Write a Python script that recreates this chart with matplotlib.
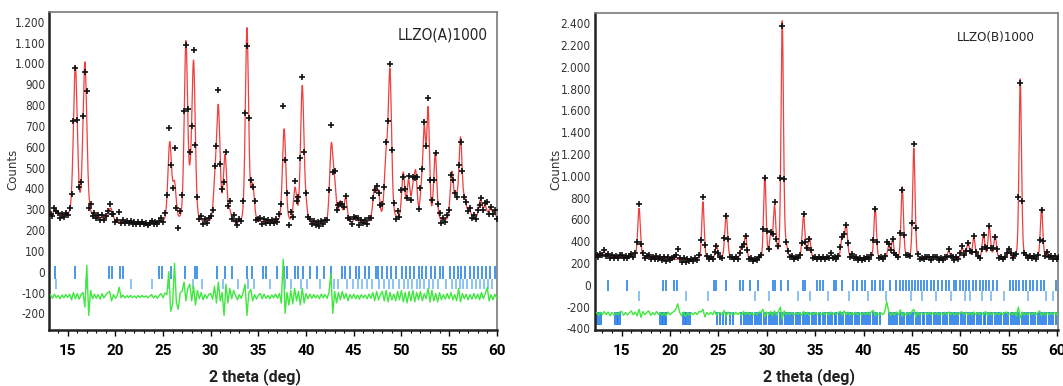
import numpy as np
import matplotlib
matplotlib.use("Agg")
import matplotlib.pyplot as plt
from matplotlib.ticker import FuncFormatter, MultipleLocator

# ---------------- LLZO(A)1000 ----------------
a_bg_pos = [13.0, 15.0, 18.0, 20.0, 23.5, 25.0, 29.5, 33.0, 36.0, 41.0, 45.5, 50.0, 54.5, 57.0, 60.2]
a_bg_cnt = [262, 258, 258, 238, 228, 232, 228, 222, 236, 222, 230, 245, 236, 250, 252]

a_peak_pos = [13.7, 15.8, 16.8, 19.5, 25.7, 26.2, 27.4, 27.85, 28.2, 30.45, 30.8,
              31.5, 32.0, 33.8, 34.4, 37.7, 38.85, 39.6, 40.0, 42.65, 43.0, 43.6, 44.15,
              45.2, 47.2, 47.6, 48.4, 48.8, 50.2, 50.75, 51.2, 51.5, 52.1, 52.4, 52.8,
              53.55, 55.3, 55.75, 56.2, 56.65, 57.1, 58.3, 58.8, 59.3, 59.7]
a_peak_hgt = [35, 720, 740, 60, 380, 170, 860, 100, 760, 170, 540,
              320, 50, 940, 170, 450, 160, 660, 60, 370, 160, 100, 120,
              35, 160, 120, 280, 690, 220, 180, 130, 210, 120, 410, 520,
              320, 230, 90, 390, 80, 45, 90, 55, 45, 35]
a_peak_fwhm = [0.5, 0.48, 0.48, 0.5, 0.45, 0.4, 0.42, 0.35, 0.42, 0.4, 0.42,
               0.42, 0.4, 0.4, 0.4, 0.42, 0.4, 0.42, 0.35, 0.42, 0.38, 0.4, 0.4,
               0.4, 0.45, 0.35, 0.45, 0.4, 0.38, 0.36, 0.35, 0.36, 0.35, 0.34, 0.34,
               0.38, 0.42, 0.35, 0.4, 0.35, 0.4, 0.45, 0.38, 0.38, 0.38]

a_obs_start = 13.2
a_resid = [10, -8, 12, -5, 6, -10, 8, -6, 10, -4, 12, -15, 20, -10, 15,
           -12, 10, 20, -50, 150, -90, 30, -10, 12, -8, 10, -12, 15, -6, 8,
           20, 25, -20, 10, -8, 6, 45, -5, 8, -6, 5, -4, 6, -5, 4,
           -6, 5, -4, 6, -3, 4, -5, 3, 10, -6, 5, -8, 6, 15, -5,
           18, 10, 120, -70, -40, 160, -30, -60, 20, 25, 70, -20, 40, 60, -20,
           50, -40, 30, -10, 20, -15, 10, -8, 12, 15, -12, 50, -30, 70, -20,
           20, -90, 60, -30, 40, -10, 30, 5, -15, 10, -8, 20, 60, -90, 20,
           35, -20, 10, -12, 8, 15, -10, 12, -8, 6, -10, 8, -6, 12, -8,
           15, -30, 180, -80, 20, -40, 30, -35, 40, -20, 25, -40, 40, -30, 15,
           -10, 12, -8, 10, -6, 8, -10, 12, -6, 10, -8, 20, 110, -80, 25,
           -30, 20, -15, 25, -10, 15, -20, 10, -8, 12, -10, 8, -12, 10, -6,
           8, -10, 12, -8, 20, -20, 25, -15, 10, 25, -20, 30, -25, 20, -15,
           12, -20, 25, -15, 30, -25, 20, -30, 25, -20, 30, -25, 20, -15, 25,
           -20, 15, -10, 40, -25, 30, -20, 15, -25, 20, -15, 10, -12, 15, -10,
           20, -15, 10, -20, 40, -25, 15, -10, 12, -15, 10, -12, 15, -10, 12,
           -15, 20, -10, 15, 45, -20, 10, -15, 12, -8]

a_ticks_1 = [13.64, 15.73, 19.33, 19.68, 20.46, 20.8, 24.55, 24.9, 25.8, 27.27, 28.32, 28.53,
             30.63, 31.5, 32.27, 33.78, 34.3, 35.53, 35.77, 36.93, 37.73, 37.98, 38.85, 39.2,
             39.72, 40.42, 41.13, 41.83, 42.63, 43.75, 44.1, 44.6, 45.2, 45.6, 46.2, 46.6,
             47.3, 47.5, 48.0, 48.5, 48.9, 49.4, 50.1, 50.5, 50.9, 51.3, 51.8, 52.2, 52.6,
             53.1, 53.5, 54.1, 54.4, 55.1, 55.5, 55.9, 56.3, 56.7, 57.2, 57.6, 58.0, 58.5,
             58.9, 59.3, 59.8]
a_ticks_2 = [13.75, 16.9, 21.67, 23.85, 25.6, 28.15, 29.1, 31.3, 32.9, 33.9, 34.58, 36.2,
             37.8, 38.4, 39.5, 40.1, 41.5, 42.9, 43.3, 44.3, 44.9, 45.4, 45.9, 46.4, 46.9,
             47.7, 48.2, 48.7, 49.1, 49.7, 50.3, 50.7, 51.1, 51.6, 52.0, 52.4, 52.9, 53.3,
             53.8, 54.7, 55.3, 55.7, 56.1, 56.5, 56.9, 57.4, 57.8, 58.2, 58.7, 59.1, 59.5]

# ---------------- LLZO(B)1000 ----------------
b_bg_pos = [12.2, 15.0, 18.0, 20.0, 22.0, 24.0, 26.5, 29.0, 33.0, 36.0, 40.0, 46.0, 50.0, 55.0, 60.2]
b_bg_cnt = [268, 256, 248, 238, 226, 232, 236, 222, 236, 240, 236, 230, 240, 236, 246]

b_peak_pos = [13.2, 16.8, 23.4, 24.8, 25.8, 27.4, 27.8, 29.8, 30.4, 30.8, 31.6, 32.0,
              33.8, 34.4, 36.6, 37.8, 38.2, 38.8, 41.2, 42.6, 43.0, 44.0, 44.4, 45.2,
              46.6, 47.4, 48.8, 50.2, 50.8, 51.4, 52.4, 53.0, 53.6, 55.0, 56.2, 58.4, 59.0]
b_peak_hgt = [35, 450, 530, 130, 420, 120, 220, 770, 200, 470, 2180, 90,
              390, 190, 30, 200, 310, 30, 480, 110, 170, 660, 20, 1020,
              25, 25, 70, 95, 150, 190, 220, 280, 210, 95, 1650, 460, 45]
b_peak_fwhm = [0.35, 0.32, 0.3, 0.3, 0.34, 0.32, 0.32, 0.3, 0.32, 0.32, 0.3, 0.32,
               0.34, 0.32, 0.35, 0.34, 0.34, 0.35, 0.3, 0.32, 0.32, 0.3, 0.35, 0.3,
               0.35, 0.35, 0.35, 0.32, 0.32, 0.32, 0.32, 0.32, 0.32, 0.32, 0.3, 0.3, 0.32]

b_obs_start = 12.4
b_resid = [10, -15, 12, -8, 20, -10, 15, -20, 10, -12, 8, -10, 15, 20, -15,
           10, -12, 8, 25, -10, 15, -20, 40, -35, 20, -10, 12, 25, -15, 10,
           -12, 20, -8, 10, -15, 12, -20, 15, -10, 8, 20, 40, 90, 10, -20,
           15, -25, 10, -12, 8, -10, 12, -8, 20, 15, 40, -30, 10, -8, 12,
           -10, 25, -15, 10, 8, -12, 30, -25, 15, -10, 8, -10, 12, -8, 10,
           -15, 20, -10, 12, -8, 10, -12, 8, -10, 15, 12, 40, -30, 15, -10,
           20, -20, 25, -15, 20, 60, -50, 25, -10, 8, -8, 10, -12, 8, -6,
           10, -15, 20, -10, 12, -15, 10, -8, 12, -10, 8, -10, 12, -8, 10,
           -12, 15, -10, 8, -6, 10, 20, -15, 25, -10, 15, -12, 10, -8, 12,
           -10, 8, -12, 10, -8, 12, -10, 15, 30, -20, 10, -12, 8, -10, 20,
           110, 20, -15, 10, -12, 15, -10, 35, -25, 10, -12, 10, -8, 20, 40,
           -30, 12, -10, 8, -6, 10, -8, 12, -10, 8, -6, 10, -12, 8, -10,
           12, -10, 15, -8, 10, -12, 8, -10, 12, 15, -10, 12, -8, 10, -12,
           15, -10, 12, -8, 10, -12, 20, -15, 10, -8, 10, -12, 8, -10, 12,
           -8, 10, 15, -10, 8, -10, 12, -20, 60, -40, 15, -10, 8, -12, 10,
           -8, 10, -12, 8, 25, -20, 12, -10, 8, -12, 10, -8, 12, -10, 8]

b_ticks_1 = [13.6, 15.6, 19.3, 19.55, 20.4, 20.7, 24.55, 24.75, 25.79, 27.23, 27.58, 28.27,
             29.06, 30.6, 30.85, 31.44, 32.2, 33.78, 33.98, 35.17, 35.45, 35.86, 36.97, 37.2,
             37.75, 38.95, 39.3, 39.8, 40.15, 40.85, 41.2, 41.7, 42.03, 42.72, 43.4, 43.78,
             44.1, 44.4, 44.7, 45.0, 45.3, 45.6, 45.9, 46.3, 46.6, 47.0, 47.3, 47.7, 48.1,
             48.5, 48.8, 49.3, 49.6, 50.0, 50.3, 50.6, 50.9, 51.3, 51.6, 52.0, 52.3, 52.7,
             53.0, 53.4, 53.8, 55.1, 55.5, 55.8, 56.1, 56.5, 56.8, 57.2, 57.5, 57.9, 58.3,
             58.7, 59.9]
b_ticks_2 = [16.8, 21.7, 23.96, 28.8, 30.2, 33.2, 34.5, 36.3, 38.5, 40.5, 42.3, 44.9, 46.0,
             47.5, 49.0, 50.5, 51.0, 52.2, 53.2, 54.5, 57.0, 58.9, 59.6]
b_ticks_3 = [12.5, 12.7, 12.9, 14.3, 14.5, 14.65, 14.8, 19.0, 19.15, 19.3, 19.45, 19.6,
             21.3, 21.5, 21.7, 21.9, 22.1,
             24.85, 25.2, 25.5, 25.8, 26.15, 26.55, 27.3, 27.6, 27.8, 28.05, 28.3, 28.5,
             28.75, 29.0, 29.2, 29.45, 29.7, 29.95,
             30.2, 30.4, 30.65, 30.9, 31.1, 31.35, 31.6, 31.85, 32.05, 32.3, 32.55, 32.75,
             33.0, 33.25, 33.45, 33.7, 33.95, 34.2, 34.4, 34.65, 34.9,
             35.1, 35.35, 35.55, 35.8, 36.05, 36.3, 36.5, 36.75, 37.0, 37.2, 37.45, 37.7,
             37.9, 38.15, 38.4, 38.6, 38.85, 39.1, 39.3, 39.55, 39.8,
             40.0, 40.25, 40.5, 40.7, 40.95, 41.2, 41.4, 41.65, 42.6, 42.8, 43.05, 43.3,
             43.5, 43.75, 44.0, 44.2, 44.45, 44.7, 44.9,
             45.15, 45.4, 45.6, 45.85, 46.1, 46.3, 46.55, 46.8, 47.0, 47.25, 47.5, 47.7,
             47.95, 48.2, 48.4, 48.65, 48.9, 49.1, 49.35, 49.6, 49.8,
             50.05, 50.3, 50.5, 50.75, 51.0, 51.2, 51.45, 51.7, 51.9, 52.15, 52.4, 52.6,
             52.85, 53.1, 53.3, 53.55, 53.8, 54.0, 54.25, 54.5, 54.7, 54.95,
             55.2, 55.4, 55.65, 55.9, 56.1, 56.35, 56.6, 56.8, 57.05, 57.3, 57.5, 57.75,
             58.0, 58.2, 58.45, 58.7, 58.9, 59.15, 59.4, 59.6, 59.85]

OBS_STEP = 0.2
RED = '#ef3f3f'
GREEN = '#3ee83e'
BLUE_DARK = '#2a84e8'
BLUE_LIGHT = '#78b8f5'
NARROW = dict(family='DejaVu Sans', stretch='condensed')


def calc_profile(x, bg_pos, bg_cnt, pos, hgt, fwhm):
    y = np.interp(x, bg_pos, bg_cnt)
    for p, h, w in zip(pos, hgt, fwhm):
        u = (x - p) / w
        y = y + h * (0.75 * np.exp(-4 * np.log(2) * u ** 2) + 0.25 / (1 + 4 * u ** 2))
    return y


def thousands(v, _):
    return f"{int(round(v)):,}".replace(",", ".")


def draw_panel(ax, obs_start, resid, bg_pos, bg_cnt, pos, hgt, fwhm, tick_rows, offset,
               xlim, ylim, ystep, name, name_xy, name_size):
    x_fine = np.arange(xlim[0], 60.25, 0.02)
    y_fine = calc_profile(x_fine, bg_pos, bg_cnt, pos, hgt, fwhm)
    x_obs = obs_start + OBS_STEP * np.arange(len(resid))
    y_obs = calc_profile(x_obs, bg_pos, bg_cnt, pos, hgt, fwhm) + np.array(resid)

    for ticks, lo, hi, col in tick_rows:
        ax.vlines(ticks, lo, hi, colors=col, linewidth=1.2, zorder=2)
    ax.plot(x_obs, np.array(resid) + offset, color=GREEN, lw=1.0, zorder=3)
    ax.plot(x_fine, y_fine, color=RED, lw=0.9, zorder=4)
    ax.plot(x_obs, y_obs, '+', color='#111111', ms=4, mew=1.2, zorder=5)

    ax.set_xlim(*xlim)
    ax.set_ylim(*ylim)
    ax.xaxis.set_major_locator(MultipleLocator(5))
    ax.xaxis.set_minor_locator(MultipleLocator(1))
    ax.yaxis.set_major_locator(MultipleLocator(ystep))
    ax.yaxis.set_major_formatter(FuncFormatter(thousands))
    ax.tick_params(axis='x', which='major', length=4, width=1, pad=6, labelsize=11)
    ax.tick_params(axis='x', which='minor', length=2.5, width=0.8)
    ax.tick_params(axis='y', length=0, pad=3, labelsize=8.5)
    for lab in ax.get_xticklabels():
        lab.set_fontweight('bold')
        lab.set_family(['Roboto', 'DejaVu Sans'])
    for lab in ax.get_yticklabels():
        lab.set_family(NARROW['family'])
        lab.set_fontstretch(NARROW['stretch'])
        lab.set_color('#333333')
    for side in ('left', 'bottom'):
        ax.spines[side].set_color('#222222')
        ax.spines[side].set_linewidth(1.8)
    for side in ('top', 'right'):
        ax.spines[side].set_color('#7a7a7a')
        ax.spines[side].set_linewidth(1.2)
    ax.text(name_xy[0], name_xy[1], name, transform=ax.transAxes, fontsize=name_size,
            color='#222222', ha='left', va='center', **NARROW)


fig = plt.figure(figsize=(10.63, 3.86), dpi=100)
ax_a = fig.add_axes([0.0464, 0.1451, 0.4209, 0.8238])
ax_b = fig.add_axes([0.5597, 0.1451, 0.4356, 0.8212])

draw_panel(ax_a, a_obs_start, a_resid, a_bg_pos, a_bg_cnt, a_peak_pos, a_peak_hgt, a_peak_fwhm,
           [(a_ticks_1, -35, 25, BLUE_DARK), (a_ticks_2, -85, -35, BLUE_LIGHT)],
           -120, (13.07, 60.0), (-280, 1247), 100, 'LLZO(A)1000', (0.778, 0.928), 11)
draw_panel(ax_b, b_obs_start, b_resid, b_bg_pos, b_bg_cnt, b_peak_pos, b_peak_hgt, b_peak_fwhm,
           [(b_ticks_1, -60, 40, BLUE_DARK), (b_ticks_2, -150, -60, BLUE_LIGHT),
            (b_ticks_3, -370, -250, '#1c78e6')],
           -265, (12.24, 60.1), (-415, 2495), 200, 'LLZO(B)1000', (0.782, 0.922), 9.5)

for xc in (255 / 1063, 809 / 1063):
    fig.text(xc, 0.025, '2 theta (deg)', ha='center', va='center', fontsize=11.5,
             fontweight='bold', family=['Roboto', 'DejaVu Sans'], color='#222222')
for xc in (13 / 1063, 556 / 1063):
    fig.text(xc, 0.56, 'Counts', ha='center', va='center', rotation=90, fontsize=8.5,
             color='#333333')

fig.savefig('out.png', dpi=100)
